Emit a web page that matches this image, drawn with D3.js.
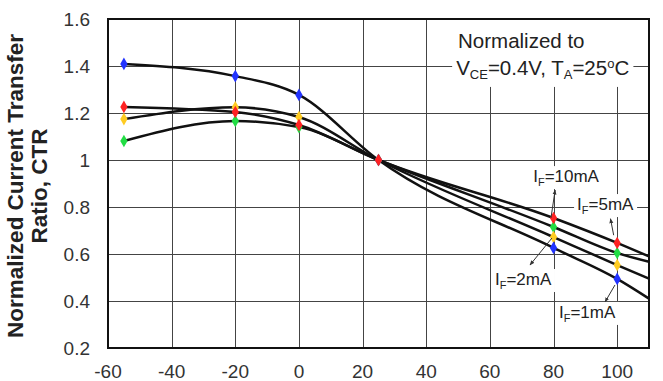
<!DOCTYPE html>
<html lang="en">
<head>
<meta charset="utf-8">
<script src="https://d3js.org/d3.v7.min.js"></script>
<style>
  body { margin: 0; background: #fff; }
  svg { display: block; font-family: "Liberation Sans", Arial, sans-serif; }
</style>
</head>
<body>
<svg width="663" height="381"></svg>
<script>
// temperatures (deg C) where CTR was measured
var temps = [-55, -20, 0, 25, 80, 100];
// normalized CTR per forward current
var ctr10mA = [1.226, 1.204, 1.149, 1.0, 0.753, 0.647];
var ctr5mA  = [1.081, 1.166, 1.140, 1.0, 0.715, 0.604];
var ctr2mA  = [1.174, 1.224, 1.183, 1.0, 0.672, 0.553];
var ctr1mA  = [1.409, 1.357, 1.277, 1.0, 0.626, 0.494];
// curves run on to the right edge of the plot
var endTemp = 110;
var ctrEnd = [0.590, 0.567, 0.495, 0.410];   // 10, 5, 2, 1 mA

var xTicks = [-60, -40, -20, 0, 20, 40, 60, 80, 100];
var yTicks = [0.2, 0.4, 0.6, 0.8, 1, 1.2, 1.4, 1.6];

var series = [
  {name: "10mA", vals: ctr10mA, end: ctrEnd[0], color: "#ff2222"},
  {name: "5mA",  vals: ctr5mA,  end: ctrEnd[1], color: "#22dd44"},
  {name: "2mA",  vals: ctr2mA,  end: ctrEnd[2], color: "#ffcc22"},
  {name: "1mA",  vals: ctr1mA,  end: ctrEnd[3], color: "#2233ff"}
];

// label spots (temp, ctr) and arrow from curve to label
var labels = [
  {sub: "10mA", t: 73.6, v: 0.906, from: [79.2, 0.753], to: [80.5, 0.872]},
  {sub: "5mA",  t: 87.4, v: 0.787, from: [98.9, 0.680], to: [97.9, 0.750]},
  {sub: "2mA",  t: 61.6, v: 0.468, from: [79.5, 0.668], to: [72.6, 0.553]},
  {sub: "1mA",  t: 81.7, v: 0.328, from: [99.3, 0.468], to: [96.2, 0.396]}
];

var plotL = 108, plotR = 649, plotT = 19, plotB = 348;
var x = d3.scaleLinear().domain([-60, endTemp]).range([plotL, plotR]);
var y = d3.scaleLinear().domain([0.2, 1.6]).range([plotB, plotT]);

var svg = d3.select("svg");

svg.append("defs").append("marker")
  .attr("id", "arr")
  .attr("viewBox", "0 0 10 10")
  .attr("refX", 9).attr("refY", 5)
  .attr("markerWidth", 5).attr("markerHeight", 5)
  .attr("orient", "auto")
  .append("path").attr("d", "M0,1 L10,5 L0,9 z").attr("fill", "#333");

// grid
var grid = svg.append("g").attr("stroke", "#444").attr("stroke-width", 1);
grid.selectAll(".gx").data(xTicks.slice(1)).enter().append("line")
  .attr("x1", function (d) { return Math.round(x(d)) + 0.5; })
  .attr("x2", function (d) { return Math.round(x(d)) + 0.5; })
  .attr("y1", plotT).attr("y2", plotB);
grid.selectAll(".gy").data(yTicks.slice(1, -1)).enter().append("line")
  .attr("y1", function (d) { return Math.round(y(d)) + 0.5; })
  .attr("y2", function (d) { return Math.round(y(d)) + 0.5; })
  .attr("x1", plotL).attr("x2", plotR);

// tick labels
svg.append("g").selectAll("text").data(yTicks).enter().append("text")
  .attr("x", 90).attr("y", function (d) { return y(d); })
  .attr("dy", "0.36em").attr("text-anchor", "end")
  .attr("font-size", 19).attr("fill", "#333")
  .text(function (d) { return d3.format("~g")(d); });
svg.append("g").selectAll("text").data(xTicks).enter().append("text")
  .attr("x", function (d) { return x(d); }).attr("y", 378)
  .attr("text-anchor", "middle")
  .attr("font-size", 19).attr("fill", "#333")
  .text(function (d) { return d; });

// y axis title
[["Normalized Current Transfer", 23], ["Ratio, CTR", 47]].forEach(function (l) {
  svg.append("text")
    .attr("transform", "translate(" + l[1] + "," + 186 + ") rotate(-90)")
    .attr("text-anchor", "middle").attr("font-size", 22.5)
    .attr("font-weight", "bold").attr("fill", "#222")
    .text(l[0]);
});

// note box
var note = svg.append("g");
var noteBg = note.append("rect").attr("fill", "#fff");
var nt = note.append("text").attr("font-size", 20.5).attr("fill", "#222");
nt.append("tspan").attr("x", x(50)).attr("y", y(1.477)).text("Normalized to");
var l2 = nt.append("tspan").attr("x", x(49.4)).attr("y", y(1.362));
l2.append("tspan").text("V");
l2.append("tspan").attr("font-size", 13).attr("dy", 4).text("CE");
l2.append("tspan").attr("dy", -4).text("=0.4V, T");
l2.append("tspan").attr("font-size", 13).attr("dy", 4).text("A");
l2.append("tspan").attr("dy", -4).text("=25");
l2.append("tspan").attr("font-size", 13).attr("dy", -7).text("o");
l2.append("tspan").attr("dy", 7).text("C");
var nb = nt.node().getBBox();
noteBg.attr("x", nb.x - 4).attr("y", plotT + 1)
  .attr("width", nb.width + 8).attr("height", nb.y + nb.height + 4 - plotT);

// curves
var line = d3.line()
  .x(function (d) { return x(d[0]); })
  .y(function (d) { return y(d[1]); })
  .curve(d3.curveMonotoneX);
svg.append("g").selectAll("path").data(series).enter().append("path")
  .attr("d", function (s) {
    var pts = temps.map(function (t, i) { return [t, s.vals[i]]; });
    pts.push([endTemp, s.end]);
    return line(pts);
  })
  .attr("fill", "none").attr("stroke", "#111").attr("stroke-width", 2.5);

// markers
var diamond = d3.symbol().type(d3.symbolDiamond).size(46);
var drawOrder = [series[1], series[2], series[3], series[0]];
drawOrder.forEach(function (s) {
  svg.append("g").selectAll("path").data(temps).enter().append("path")
    .attr("d", diamond)
    .attr("transform", function (t, i) { return "translate(" + x(t) + "," + y(s.vals[i]) + ")"; })
    .attr("fill", s.color);
});

// current labels
labels.forEach(function (l) {
  var g = svg.append("g");
  var bg = g.append("rect").attr("fill", "#fff");
  var t = g.append("text").attr("x", x(l.t)).attr("y", y(l.v))
    .attr("font-size", 17).attr("fill", "#222");
  t.append("tspan").text("I");
  t.append("tspan").attr("font-size", 11).attr("dy", 4).text("F");
  t.append("tspan").attr("dy", -4).text("=" + l.sub);
  var b = t.node().getBBox();
  bg.attr("x", b.x - 3).attr("y", b.y - 1).attr("width", b.width + 6).attr("height", b.height + 2);
  svg.append("line")
    .attr("x1", x(l.from[0])).attr("y1", y(l.from[1]))
    .attr("x2", x(l.to[0])).attr("y2", y(l.to[1]))
    .attr("stroke", "#333").attr("stroke-width", 1)
    .attr("marker-end", "url(#arr)");
});

// frame
svg.append("rect")
  .attr("x", plotL).attr("y", plotT)
  .attr("width", plotR - plotL).attr("height", plotB - plotT)
  .attr("fill", "none").attr("stroke", "#111").attr("stroke-width", 2);
</script>
</body>
</html>
